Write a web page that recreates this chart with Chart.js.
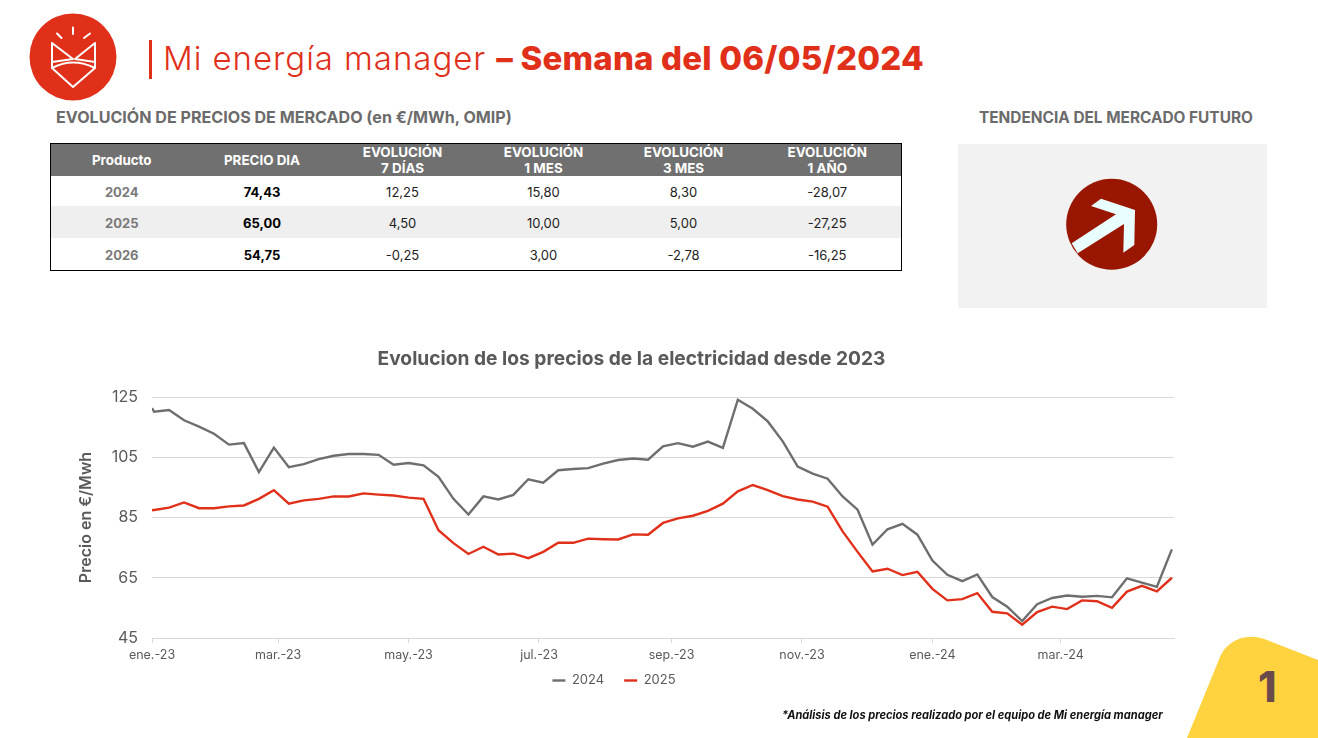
<!DOCTYPE html>
<html lang="es">
<head>
<meta charset="utf-8">
<title>Mi energía manager</title>
<script src="https://cdn.jsdelivr.net/npm/chart.js@4"></script>
<style>
  html, body { margin: 0; padding: 0; background: #fff; }
  body { width: 1318px; height: 738px; position: relative; overflow: hidden; font-family: "Inter", "DejaVu Sans", sans-serif; }
  .abs { position: absolute; white-space: nowrap; }
  #cabecera { left: 163px; top: 37px; font-size: 33px; line-height: 42px; color: #e1301a; font-weight: 300; letter-spacing: 0.95px; }
  #cabecera b { font-weight: 800; letter-spacing: 0.2px; }
  .seccion { top: 108px; line-height: 18px; font-weight: 700; color: #6b6b6b; }
  #tabla { position: absolute; left: 50px; top: 143px; width: 851px; border-collapse: collapse; table-layout: fixed; border: 1px solid #000; font-size: 13px; color: #222; }
  #tabla th { background: #707070; color: #fff; height: 32px; padding: 0; box-sizing: border-box; font-size: 13.4px; line-height: 16px; font-weight: 700; }
  #tabla td { text-align: center; padding: 2px 0 0; box-sizing: border-box; height: 32px; }
  #tabla tr:nth-child(1) td { height: 30px; }
  #tabla tr:nth-child(2) td { background: #efefef; }
  #tabla td:nth-child(1) { color: #7a7a7a; font-weight: 700; }
  #tabla td:nth-child(2) { color: #000; font-weight: 700; }
  #grafico { position: absolute; left: 60px; top: 345px; }
  #nota { left: 782px; top: 708px; font-size: 11.1px; line-height: 14px; font-weight: 700; font-style: italic; color: #111; }
  #pagina { left: 1258px; top: 662px; font-size: 42px; line-height: 50px; font-weight: 800; color: #6b4a4c; }
</style>
</head>
<body>

<svg class="abs" style="left:0;top:0" width="1318" height="738">
  <!-- logo -->
  <circle cx="73" cy="57" r="43.5" fill="#e1301a"/>
  <g fill="none" stroke="#fff" stroke-width="2" stroke-linecap="round" stroke-linejoin="round">
    <path d="M73 27.5V34M57 33.5L61.5 38M90 33.5L84 38"/>
    <path d="M52 43V68L73 87L95 68V43L75 59L95 62M52 43L73 59L52 62M52 68Q73 57 95 68"/>
  </g>
  <rect x="149" y="40" width="3" height="39" fill="#e1301a"/>
  <!-- tendencia -->
  <rect x="958" y="144" width="309" height="164" fill="#f2f2f2"/>
  <circle cx="1111.7" cy="224.3" r="45.5" fill="#991600"/>
  <polygon points="1071.7,243.3 1116,214.3 1091,206 1101,198.7 1135,210 1134.3,245 1123.3,252.7 1124,224 1077.7,253.3" fill="#e9ffff"/>
  <!-- esquina -->
  <path d="M1187 738L1220 657C1226 642 1245 631 1267 640L1318 660V738Z" fill="#ffd33f"/>
</svg>

<div class="abs" id="cabecera">Mi energía manager <b>– Semana del 06/05/2024</b></div>
<div class="abs seccion" style="left:56px;font-size:16.1px">EVOLUCIÓN DE PRECIOS DE MERCADO (en €/MWh, OMIP)</div>
<div class="abs seccion" style="left:979px;top:108.5px;font-size:15.4px">TENDENCIA DEL MERCADO FUTURO</div>

<table id="tabla">
  <colgroup><col style="width:142px"><col style="width:139px"><col style="width:142px"><col style="width:140px"><col style="width:140px"><col style="width:148px"></colgroup>
  <thead><tr id="tablaCabecera"></tr></thead>
  <tbody id="tablaCuerpo"></tbody>
</table>

<canvas id="grafico" width="1130" height="366"></canvas>

<div class="abs" id="nota">*Análisis de los precios realizado por el equipo de Mi energía manager</div>
<div class="abs" id="pagina">1</div>

<script>
// tabla de precios
const columnas = ["Producto", "PRECIO DIA", "EVOLUCIÓN<br>7 DÍAS", "EVOLUCIÓN<br>1 MES", "EVOLUCIÓN<br>3 MES", "EVOLUCIÓN<br>1 AÑO"];
const fila2024 = ["2024", "74,43", "12,25", "15,80", "8,30", "-28,07"];
const fila2025 = ["2025", "65,00", "4,50", "10,00", "5,00", "-27,25"];
const fila2026 = ["2026", "54,75", "-0,25", "3,00", "-2,78", "-16,25"];

// dias desde el 01/01/2023
const dias = [0, 1, 8, 15, 22, 29, 36, 43, 50, 57, 64, 71, 78, 85, 92, 99, 106, 113, 120, 127,
  134, 141, 148, 155, 162, 169, 176, 183, 190, 197, 204, 211, 218, 225, 232, 239, 246, 253, 260, 267,
  274, 281, 288, 295, 302, 309, 316, 323, 330, 337, 344, 351, 358, 365, 372, 379, 386, 393, 400, 407,
  414, 421, 428, 435, 442, 449, 456, 463, 470, 477];

const precios2024 = [121.3, 120.1, 120.7, 117.3, 115.2, 112.8, 109.2, 109.7, 100.1, 108.2,
  101.7, 102.7, 104.4, 105.5, 106.1, 106.1, 105.8, 102.5, 103.1, 102.3,
  98.5, 91.2, 86.0, 92.0, 91.0, 92.5, 97.7, 96.6, 100.7, 101.1,
  101.4, 102.9, 104.1, 104.6, 104.2, 108.6, 109.7, 108.5, 110.2, 108.1,
  124.1, 121.1, 116.9, 110.3, 101.9, 99.6, 97.9, 92.0, 87.6, 76.0,
  81.1, 82.9, 79.3, 70.7, 66.0, 63.9, 66.1, 58.6, 55.4, 50.6,
  56.2, 58.3, 59.1, 58.7, 59.0, 58.5, 64.8, 63.4, 62.0, 74.43];

const precios2025 = [87.4, 87.5, 88.3, 90.0, 88.1, 88.1, 88.7, 89.0, 91.2, 94.1,
  89.6, 90.7, 91.2, 92.0, 92.0, 93.0, 92.6, 92.3, 91.6, 91.2,
  80.8, 76.5, 72.9, 75.3, 72.7, 73.0, 71.5, 73.6, 76.6, 76.6,
  78.0, 77.8, 77.7, 79.4, 79.3, 83.2, 84.7, 85.6, 87.2, 89.6,
  93.7, 95.8, 94.1, 92.1, 91.0, 90.3, 88.6, 80.4, 73.6, 67.1,
  68.0, 65.9, 67.0, 61.3, 57.5, 57.9, 59.9, 53.7, 53.2, 49.4,
  53.6, 55.4, 54.6, 57.5, 57.2, 55.0, 60.4, 62.3, 60.5, 65.0];

const tickDias = [0, 59, 120, 181, 243, 304, 365, 425];
const tickMeses = ["ene.-23", "mar.-23", "may.-23", "jul.-23", "sep.-23", "nov.-23", "ene.-24", "mar.-24"];

document.getElementById("tablaCabecera").innerHTML = columnas.map(c => "<th>" + c + "</th>").join("");
document.getElementById("tablaCuerpo").innerHTML = [fila2024, fila2025, fila2026]
  .map(f => "<tr>" + f.map(v => "<td>" + v + "</td>").join("") + "</tr>").join("");

const puntos = valores => valores.map((v, i) => ({ x: dias[i], y: v }));
const fuente = "Inter, 'DejaVu Sans', sans-serif";

// titulo y leyenda no van centrados sobre el area del grafico
const moverCajas = {
  id: "moverCajas",
  afterLayout(chart) {
    chart.titleBlock.left += 14.5;
    chart.titleBlock.right += 14.5;
    chart.legend.top -= 14;
    chart.legend.left -= 3;
    chart.legend.right -= 3;
  }
};

new Chart(document.getElementById("grafico"), {
  type: "line",
  plugins: [moverCajas],
  data: {
    datasets: [
      { label: "2024", data: puntos(precios2024), borderColor: "#6e6e6e", backgroundColor: "#6e6e6e", borderWidth: 2.4, pointRadius: 0, tension: 0 },
      { label: "2025", data: puntos(precios2025), borderColor: "#e1301a", backgroundColor: "#e1301a", borderWidth: 2.4, pointRadius: 0, tension: 0 }
    ]
  },
  options: {
    responsive: false,
    animation: false,
    layout: { padding: { right: 16 } },
    plugins: {
      title: {
        display: true,
        text: "Evolucion de los precios de la electricidad desde 2023",
        color: "#595959",
        font: { family: fuente, size: 19.2, weight: "bold" },
        padding: { top: 3, bottom: 26 }
      },
      legend: {
        position: "bottom",
        labels: { color: "#595959", font: { family: fuente, size: 13 }, usePointStyle: true, pointStyle: "line", pointStyleWidth: 13, padding: 20 }
      },
      tooltip: { enabled: false }
    },
    scales: {
      x: {
        type: "linear",
        min: 0,
        max: 478,
        afterBuildTicks: s => { s.ticks = tickDias.map(d => ({ value: d })); },
        ticks: { color: "#595959", font: { family: fuente, size: 12.5 }, autoSkip: false, maxRotation: 0, padding: 5, callback: (v, i) => tickMeses[i] },
        grid: { drawOnChartArea: false, color: "#d9d9d9", tickLength: 5 },
        border: { color: "#d9d9d9" }
      },
      y: {
        min: 45,
        max: 125,
        afterFit: s => { s.width = 92; },
        ticks: { stepSize: 20, color: "#595959", font: { family: fuente, size: 16 }, padding: 14 },
        grid: { color: "#d9d9d9", drawTicks: false },
        border: { display: false },
        title: { display: true, text: "Precio en €/Mwh", color: "#595959", font: { family: fuente, size: 16, weight: "600" }, padding: { top: 17, bottom: 0 } }
      }
    }
  }
});
</script>
</body>
</html>
